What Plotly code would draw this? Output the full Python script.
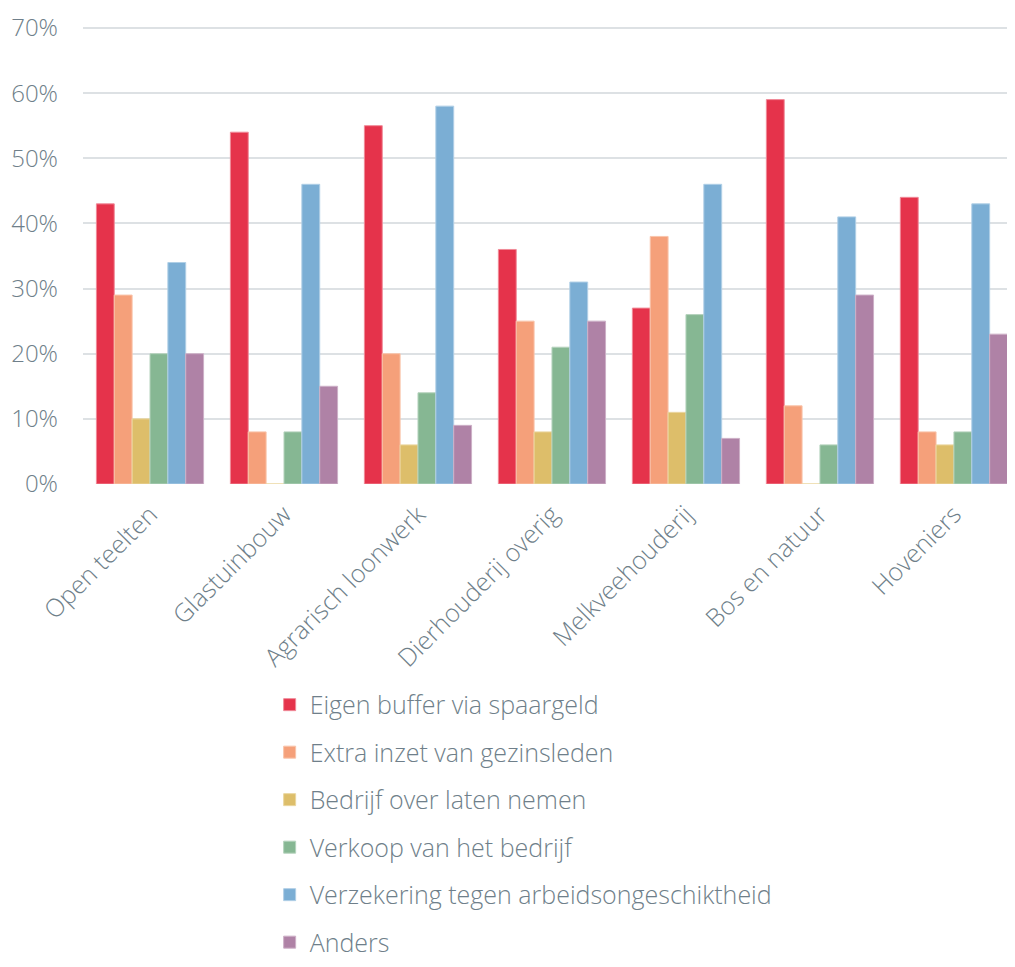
import plotly.graph_objects as go

categories = ["Open teelten", "Glastuinbouw", "Agrarisch loonwerk", "Dierhouderij overig",
              "Melkveehouderij", "Bos en natuur", "Hoveniers"]
series_names = ["Eigen buffer via spaargeld", "Extra inzet van gezinsleden", "Bedrijf over laten nemen",
                "Verkoop van het bedrijf", "Verzekering tegen arbeidsongeschiktheid", "Anders"]
eigen_buffer = [43, 54, 55, 36, 27, 59, 44]
extra_inzet = [29, 8, 20, 25, 38, 12, 8]
over_laten_nemen = [10, 0, 6, 8, 11, 0, 6]
verkoop = [20, 8, 14, 21, 26, 6, 8]
verzekering = [34, 46, 58, 31, 46, 41, 43]
anders = [20, 15, 9, 25, 7, 29, 23]
tick_vals = [0, 10, 20, 30, 40, 50, 60, 70]
tick_text = ["0%", "10%", "20%", "30%", "40%", "50%", "60%", "70%"]

series_values = [eigen_buffer, extra_inzet, over_laten_nemen, verkoop, verzekering, anders]
colors = ["#E5334B", "#F5A07A", "#DDBE6A", "#86B793", "#7BAED4", "#AF82A6"]
edges = ["#F08A98", "#F9C4AB", "#EBD7A0", "#B5D3BD", "#B0CFE6", "#CDB0C7"]

fig = go.Figure()
for i, (name, vals) in enumerate(zip(series_names, series_values)):
    fig.add_trace(go.Bar(
        x=categories, y=vals, name=name, legendgroup=f"g{i}",
        marker=dict(color=colors[i], line=dict(color=edges[i], width=1)),
    ))

text_color = "#6F7F8A"
fam = "'Open Sans', Lato, sans-serif"
fig.update_layout(
    width=999, height=951,
    paper_bgcolor="white", plot_bgcolor="white",
    font=dict(family=fam, color=text_color, size=24, weight=300),
    margin=dict(l=75, r=0, t=18, b=475, autoexpand=False),
    barmode="group", bargap=0.2, bargroupgap=0,
    showlegend=True,
    legend=dict(x=0.202, y=-1.05, xanchor="left", yanchor="bottom",
                orientation="v", tracegroupgap=12,
                font=dict(family=fam, size=25, color=text_color, weight=300),
                bgcolor="rgba(0,0,0,0)"),
    xaxis=dict(tickangle=-45, range=[-0.5, 6.396], showgrid=False, showline=False,
               ticks="", automargin=False, ticklabelstandoff=10,
               tickfont=dict(family=fam, size=25, color=text_color, weight=300)),
    yaxis=dict(range=[0, 70.3], tickvals=tick_vals, ticktext=tick_text,
               showgrid=True, gridcolor="#DDE1E4", gridwidth=2, zeroline=False,
               showline=False, ticks="", ticklabelstandoff=24, automargin=False,
               tickfont=dict(family=fam, size=24, color=text_color, weight=300)),
)
fig.write_html("out.html")
